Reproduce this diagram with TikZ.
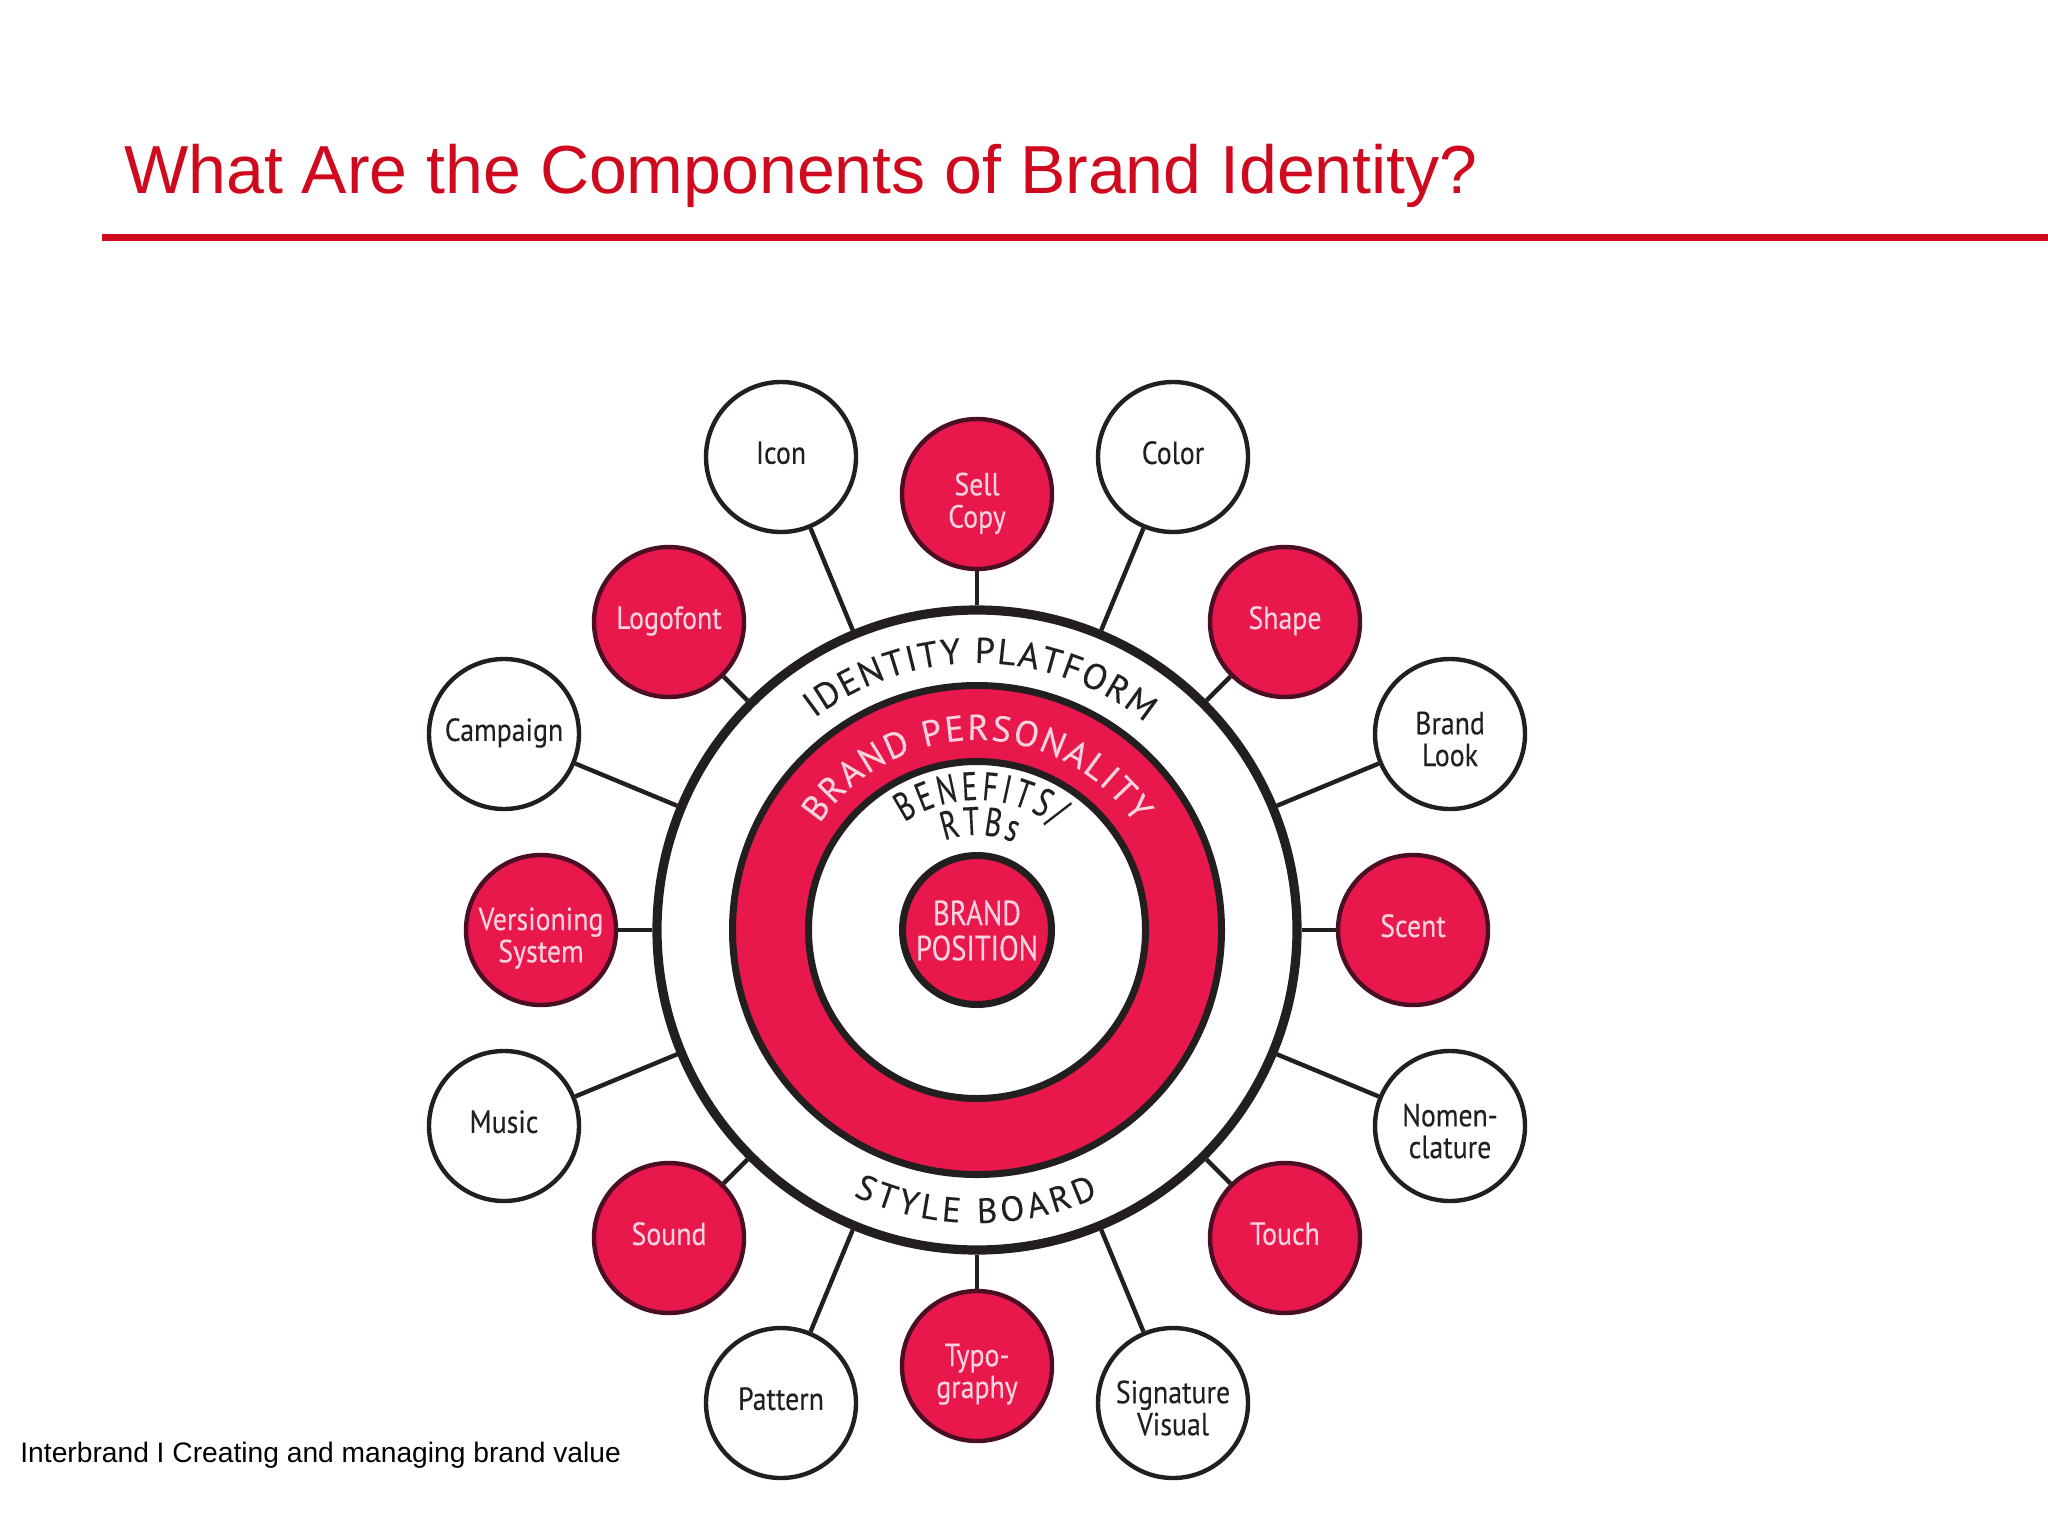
\documentclass[tikz,border=0pt]{standalone}
\usepackage{fontspec}
\setmainfont{Liberation Sans}
\newfontfamily\labelfont[FakeStretch=0.87,FakeBold=0.2]{PT Sans}
\newfontfamily\posfont[FakeStretch=0.82,FakeBold=0.2]{PT Sans}
\newfontfamily\arcfont[FakeBold=0.2]{PT Sans}
\newfontfamily\arcnarrow[FakeStretch=0.72,FakeBold=0.2]{PT Sans}
\usetikzlibrary{decorations.text}
\definecolor{titlered}{HTML}{CF0A1E}
\definecolor{brandred}{HTML}{E8174C}
\definecolor{inkdark}{HTML}{231F20}
\definecolor{edgedark}{HTML}{4A0F24}
\definecolor{paletext}{HTML}{FBD3DF}
\newcommand{\stacklab}[2]{\raisebox{#1}[0pt][0pt]{\begin{tabular}[c]{@{}c@{}}#2\end{tabular}}}
\newcommand{\onel}[1]{\stacklab{-4.45pt}{#1}}
\newcommand{\twol}[1]{\stacklab{-9.1pt}{#1}}
\tikzset{
  sat/.style={circle,minimum size=75pt,inner sep=0pt,line width=2.2pt,
    font=\labelfont\fontsize{16}{15.7}\selectfont},
  whitesat/.style={sat,draw=inkdark,fill=white,text=inkdark},
  redsat/.style={sat,draw=edgedark,fill=brandred,text=paletext},
  disc/.style={circle,inner sep=0pt,line width=3.5pt,draw=inkdark},
  spoke/.style={draw=inkdark,line width=2.2pt},
}
\newcommand{\arctext}[6]{% r, start, end, font+colour, size, text
  \path[decorate,decoration={text along path,text align={fit to path},
    text={|#4\fontsize{#5}{#5}\selectfont|#6}}]
    (977,930) ++(#2:#1) arc[start angle=#2,end angle=#3,radius=#1];}
\begin{document}
\begin{tikzpicture}[x=0.5pt,y=-0.5pt]
\useasboundingbox (0,0) rectangle (2048,1536);
\node[anchor=base west,inner sep=0pt,text=titlered,font=\fontsize{34}{34}\selectfont] (title) at (124,193) {What Are the Components of Brand Identity?};
\coordinate (ruleL) at (102,237.5);
\coordinate (ruleR) at (2048,237.5);
\draw[titlered,line width=3.5pt] (ruleL) -- (ruleR);
\node[disc,fill=white,minimum size=320pt,line width=4.6pt] (ring) at (977,930) {};
\node[disc,fill=brandred,minimum size=244.5pt] (pers) at (977,930) {};
\node[disc,fill=white,minimum size=168.5pt] (bene) at (977,930) {};
\node[disc,fill=brandred,minimum size=74.5pt,text=paletext,font=\posfont\fontsize{17.5}{17}\selectfont] (pos) at (977,930) {\stacklab{-7pt}{BRAND\\POSITION}};
\arctext{267}{-127.5}{-51}{\arcfont\color{inkdark}}{18}{IDENTITY PLATFORM}
\arctext{190}{-146}{-34}{\arcfont\color{paletext}}{18}{BRAND PERSONALITY}
\arctext{130}{-124}{-53}{\arcnarrow\color{inkdark}}{20}{BENEFITS/}
\arctext{95}{-110}{-67}{\arcnarrow\color{inkdark}}{20}{RTBs}
\arctext{293}{-245}{-294.5}{\arcfont\color{inkdark}}{17.5}{STYLE BOARD}
\node[redsat] (sell) at (977,494) {\stacklab{-9.7pt}{Sell\\Copy}};
\node[redsat] (typo) at (977,1366) {\twol{Typo-\\graphy}};
\node[redsat] (scent) at (1413,930) {\onel{Scent}};
\node[redsat] (vers) at (541,930) {\twol{Versioning\\System}};
\node[redsat] (logo) at (669,622) {\onel{Logofont}};
\node[redsat] (shape) at (1285,622) {\onel{Shape}};
\node[redsat] (sound) at (669,1238) {\onel{Sound}};
\node[redsat] (touch) at (1285,1238) {\onel{Touch}};
\node[whitesat] (icon) at (781,457) {\onel{Icon}};
\node[whitesat] (color) at (1173,457) {\onel{Color}};
\node[whitesat] (pattern) at (781,1403) {\onel{Pattern}};
\node[whitesat] (signature) at (1173,1403) {\twol{Signature\\Visual}};
\node[whitesat] (campaign) at (504,734) {\onel{Campaign}};
\node[whitesat] (look) at (1450,734) {\twol{Brand\\Look}};
\node[whitesat] (music) at (504,1126) {\onel{Music}};
\node[whitesat] (nomen) at (1450,1126) {\twol{Nomen-\\clature}};
\foreach \n in {sell,typo,scent,vers,logo,shape,sound,touch,icon,color,pattern,signature,campaign,look,music,nomen}
  \draw[spoke] (\n) -- (ring);
\node[anchor=base west,inner sep=0pt,text=black,font=\fontsize{14.1}{14.1}\selectfont] (foot) at (20,1462) {Interbrand I Creating and managing brand value};
\end{tikzpicture}
\end{document}
